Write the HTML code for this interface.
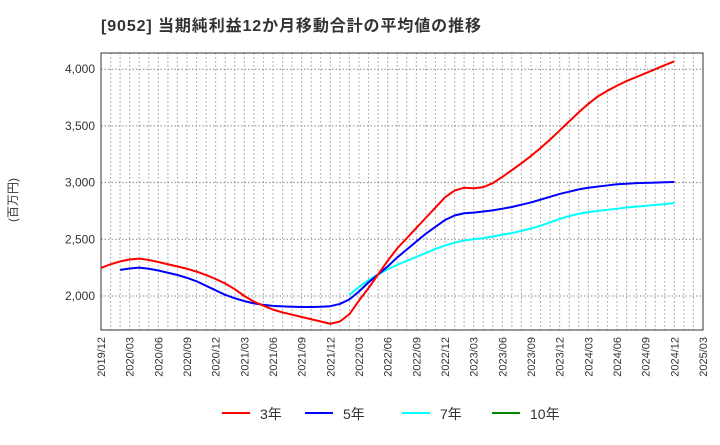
<!DOCTYPE html>
<html><head><meta charset="utf-8"><style>
body{margin:0;background:#fff;font-family:"Liberation Sans","Noto Sans CJK JP",sans-serif}
</style></head><body>
<svg id="c" width="720" height="440" xmlns="http://www.w3.org/2000/svg" style="font-family:'Liberation Sans','Noto Sans CJK JP',sans-serif">
<text x="101" y="31" font-size="16" font-weight="bold" fill="#333" textLength="380" lengthAdjust="spacing">[9052]  当期純利益12か月移動合計の平均値の推移</text>
<text transform="translate(17,200) rotate(-90)" font-size="12" fill="#333" text-anchor="middle">(百万円)</text>
<g id="grid"></g><g id="axes"></g><g id="series"></g>
<g>
<line x1="222" y1="413" x2="250" y2="413" stroke="#f00" stroke-width="2"/><text x="260" y="419" font-size="14" fill="#333">3年</text>
<line x1="305" y1="413" x2="333" y2="413" stroke="#00f" stroke-width="2"/><text x="343" y="419" font-size="14" fill="#333">5年</text>
<line x1="402" y1="413" x2="430" y2="413" stroke="#0ff" stroke-width="2"/><text x="440" y="419" font-size="14" fill="#333">7年</text>
<line x1="492" y1="413" x2="520" y2="413" stroke="#080" stroke-width="2"/><text x="530" y="419" font-size="14" fill="#333">10年</text>
</g>
</svg>
<script>
const yTicks=[2000,2500,3000,3500,4000];
const xTickLabels=["2019/12","2020/03","2020/06","2020/09","2020/12","2021/03","2021/06","2021/09","2021/12","2022/03","2022/06","2022/09","2022/12","2023/03","2023/06","2023/09","2023/12","2024/03","2024/06","2024/09","2024/12","2025/03"];
const red=[2247,2280,2305,2322,2330,2318,2300,2280,2260,2240,2215,2185,2150,2110,2060,2000,1950,1915,1880,1855,1835,1815,1795,1775,1755,1775,1840,1960,2070,2190,2310,2420,2510,2600,2690,2780,2870,2930,2955,2950,2960,2995,3050,3110,3170,3235,3305,3380,3460,3540,3620,3695,3760,3810,3855,3895,3930,3965,4000,4035,4070];
const blueStart=2;
const blue=[2230,2243,2250,2240,2225,2205,2185,2160,2130,2090,2050,2010,1980,1955,1935,1922,1913,1908,1905,1903,1903,1905,1910,1930,1970,2040,2120,2190,2260,2340,2410,2480,2550,2610,2670,2710,2730,2735,2745,2755,2770,2785,2805,2825,2850,2875,2900,2920,2940,2955,2965,2975,2985,2990,2995,2998,3000,3003,3005];
const cyanStart=26;
const cyan=[2010,2080,2140,2190,2235,2275,2310,2345,2380,2415,2445,2470,2490,2500,2510,2525,2540,2555,2575,2595,2620,2650,2680,2705,2725,2740,2750,2760,2770,2780,2788,2795,2803,2810,2820];
const L=101,R=703,T=53,B=330,NM=63;
const x=m=>L+(R-L)*m/NM;
const y=v=>296-(v-2000)/500*56.7;
const NS="http://www.w3.org/2000/svg";
function mk(t,a,p){const e=document.createElementNS(NS,t);for(const k in a)e.setAttribute(k,a[k]);p.appendChild(e);return e;}
const g=document.getElementById('grid'),ax=document.getElementById('axes'),s=document.getElementById('series');
for(let m=1;m<NM;m++){const l=mk('line',{x1:x(m),x2:x(m),y1:T,y2:B,stroke:'#999','stroke-dasharray':'1.5,2.5'},g);

}
yTicks.forEach(v=>{const l=mk('line',{x1:L,x2:R,y1:y(v),y2:y(v),stroke:'#888','stroke-dasharray':'1.5,2'},g);


const t=mk('text',{x:L-6,y:y(v)+4,'font-size':12,'text-anchor':'end',fill:'#333'},ax);t.textContent=v.toLocaleString('en-US');

});
xTickLabels.forEach((lb,i)=>{const xx=x(i*3);const t=mk('text',{transform:`translate(${xx+4},337) rotate(-90)`,'font-size':11,'text-anchor':'end',fill:'#333'},ax);t.textContent=lb;

});
const fr=mk('rect',{x:L,y:T,width:R-L,height:B-T,fill:'none',stroke:'#333'},ax);


function line(arr,start,col,name){const p=mk('polyline',{points:arr.map((v,i)=>x(i+start)+','+y(v)).join(' '),fill:'none',stroke:col,'stroke-width':2,'stroke-linejoin':'round'},s);

}
line(cyan,cyanStart,'#0ff','series-7y');
line(blue,blueStart,'#00f','series-5y');
line(red,0,'#f00','series-3y');
</script>
</body></html>
